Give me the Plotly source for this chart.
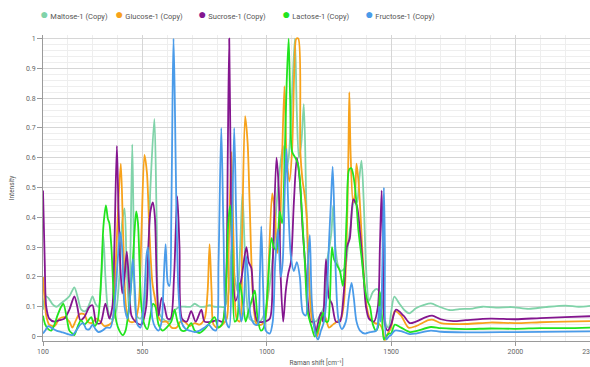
import plotly.graph_objects as go

# Raman spectra of five sugars, normalised intensity vs. Raman shift (cm^-1)

maltose_x = [100, 109, 121, 137, 154, 170, 186, 206, 226, 240, 254, 270, 287, 299, 311, 323, 335, 343, 351, 361,
             371, 383, 395, 407, 418, 428, 436, 446, 452, 459, 466, 476, 492, 508, 522, 532, 548, 557, 567, 581,
             601, 617, 633, 653, 674, 694, 710, 730, 750, 770, 790, 810, 831, 847, 859, 871, 883, 893, 902, 911,
             919, 931, 952, 972, 992, 1004, 1016, 1028, 1040, 1052, 1066, 1076, 1088, 1101, 1113, 1121, 1129, 1139,
             1149, 1159, 1169, 1181, 1197, 1213, 1230, 1242, 1252, 1260, 1267, 1276, 1286, 1298, 1314, 1326, 1338,
             1350, 1362, 1372, 1381, 1390, 1400, 1411, 1427, 1443, 1457, 1467, 1480, 1490, 1500, 1513, 1533, 1553,
             1573, 1600, 1633, 1660, 1694, 1734, 1775, 1828, 1868, 1922, 1985, 2054, 2121, 2201, 2255, 2300]
maltose_y = [0.09, 0.135, 0.13, 0.11, 0.10, 0.11, 0.12, 0.135, 0.165, 0.13, 0.09, 0.085, 0.11, 0.135, 0.11, 0.10,
             0.20, 0.335, 0.20, 0.09, 0.06, 0.06, 0.09, 0.20, 0.38, 0.43, 0.25, 0.08, 0.30, 0.645, 0.30, 0.07,
             0.06, 0.10, 0.25, 0.50, 0.73, 0.40, 0.08, 0.06, 0.05, 0.06, 0.09, 0.10, 0.10, 0.10, 0.11, 0.10, 0.10,
             0.105, 0.10, 0.10, 0.10, 0.15, 0.30, 0.20, 0.15, 0.30, 0.48, 0.30, 0.13, 0.06, 0.05, 0.05, 0.08,
             0.13, 0.20, 0.30, 0.45, 0.56, 0.64, 0.55, 0.60, 0.80, 1.0, 0.75, 0.60, 0.65, 0.78, 0.45, 0.20, 0.08,
             0.05, 0.07, 0.10, 0.25, 0.30, 0.35, 0.44, 0.30, 0.24, 0.22, 0.23, 0.30, 0.38, 0.45, 0.45, 0.53, 0.59,
             0.45, 0.22, 0.12, 0.15, 0.16, 0.14, 0.10, 0.04, 0.03, 0.08, 0.134, 0.111, 0.089, 0.078, 0.095, 0.106,
             0.111, 0.10, 0.089, 0.092, 0.094, 0.10, 0.097, 0.099, 0.093, 0.099, 0.104, 0.10, 0.103]

glucose_x = [100, 105, 113, 125, 146, 166, 186, 206, 218, 230, 246, 266, 279, 295, 315, 331, 347, 367, 379, 393,
             403, 413, 422, 434, 448, 468, 484, 496, 508, 518, 528, 540, 552, 562, 577, 597, 617, 637, 653, 669,
             690, 710, 730, 750, 762, 770, 778, 786, 802, 822, 839, 847, 858, 867, 879, 891, 901, 913, 923, 931,
             945, 960, 980, 996, 1008, 1022, 1032, 1042, 1052, 1060, 1071, 1080, 1091, 1102, 1111, 1119, 1127,
             1135, 1143, 1153, 1161, 1171, 1181, 1193, 1203, 1213, 1226, 1238, 1250, 1266, 1283, 1299, 1311, 1321,
             1328, 1332, 1337, 1347, 1355, 1361, 1369, 1377, 1387, 1402, 1415, 1435, 1455, 1467, 1475, 1487, 1500,
             1515, 1540, 1570, 1600, 1650, 1670, 1700, 1800, 1900, 2000, 2100, 2200, 2300]
glucose_y = [0.20, 0.14, 0.07, 0.04, 0.035, 0.06, 0.065, 0.05, 0.03, 0.05, 0.075, 0.075, 0.05, 0.045, 0.06, 0.05,
             0.035, 0.04, 0.05, 0.25, 0.45, 0.58, 0.35, 0.10, 0.05, 0.05, 0.10, 0.35, 0.61, 0.55, 0.35, 0.18,
             0.12, 0.07, 0.05, 0.05, 0.03, 0.03, 0.05, 0.05, 0.035, 0.045, 0.04, 0.06, 0.15, 0.31, 0.15, 0.04,
             0.03, 0.04, 0.06, 0.30, 0.62, 0.30, 0.06, 0.05, 0.35, 0.74, 0.65, 0.45, 0.13, 0.04, 0.04, 0.07, 0.25,
             0.48, 0.42, 0.28, 0.35, 0.55, 0.84, 0.60, 0.52, 0.63, 0.90, 1.0, 1.0, 0.62, 0.53, 0.47, 0.40, 0.18,
             0.06, 0.03, 0.0, 0.04, 0.08, 0.06, 0.03, 0.04, 0.05, 0.06, 0.12, 0.31, 0.60, 0.82, 0.62, 0.45, 0.48,
             0.58, 0.52, 0.41, 0.25, 0.10, 0.06, 0.045, 0.04, 0.02, -0.012, 0.01, 0.03, 0.085, 0.07, 0.03, 0.035,
             0.055, 0.056, 0.045, 0.042, 0.047, 0.045, 0.048, 0.05, 0.052]

sucrose_x = [100, 107, 113, 125, 146, 166, 186, 206, 226, 238, 250, 266, 287, 299, 315, 331, 351, 367, 379, 387,
             397, 403, 412, 419, 428, 437, 446, 456, 472, 495, 515, 524, 532, 542, 550, 557, 565, 577, 589, 601,
             613, 627, 640, 649, 659, 678, 696, 714, 737, 750, 778, 802, 822, 837, 843, 849, 855, 863, 875, 895,
             918, 927, 938, 947, 963, 988, 1012, 1024, 1039, 1048, 1056, 1066, 1076, 1086, 1097, 1109, 1121, 1133,
             1145, 1155, 1165, 1177, 1189, 1197, 1205, 1218, 1226, 1238, 1250, 1262, 1278, 1294, 1310, 1322, 1334,
             1348, 1362, 1375, 1388, 1399, 1411, 1431, 1447, 1455, 1462, 1467, 1475, 1487, 1500, 1520, 1550, 1575,
             1600, 1640, 1665, 1700, 1750, 1800, 1900, 2000, 2100, 2200, 2300]
sucrose_y = [0.49, 0.25, 0.10, 0.06, 0.05, 0.055, 0.06, 0.09, 0.135, 0.10, 0.055, 0.065, 0.10, 0.105, 0.045, 0.045,
             0.11, 0.06, 0.10, 0.30, 0.64, 0.45, 0.22, 0.145, 0.20, 0.285, 0.18, 0.07, 0.05, 0.04, 0.10, 0.30,
             0.42, 0.45, 0.40, 0.20, 0.07, 0.13, 0.10, 0.06, 0.06, 0.20, 0.47, 0.30, 0.06, 0.05, 0.085, 0.05, 0.09,
             0.05, 0.05, 0.055, 0.05, 0.20, 0.60, 1.0, 0.55, 0.20, 0.12, 0.18, 0.30, 0.25, 0.23, 0.12, 0.05, 0.05,
             0.06, 0.25, 0.60, 0.50, 0.20, 0.05, 0.15, 0.21, 0.25, 0.45, 0.60, 0.52, 0.35, 0.24, 0.12, 0.05, 0.05,
             0.005, 0.04, 0.08, 0.05, 0.26, 0.13, 0.11, 0.05, 0.05, 0.15, 0.30, 0.33, 0.46, 0.44, 0.35, 0.22, 0.10,
             0.06, 0.05, 0.10, 0.30, 0.49, 0.30, 0.04, 0.02, 0.04, 0.09, 0.07, 0.045, 0.05, 0.065, 0.07, 0.058,
             0.052, 0.055, 0.06, 0.058, 0.062, 0.065, 0.068]

lactose_x = [100, 109, 121, 133, 146, 158, 173, 182, 194, 206, 218, 226, 238, 253, 266, 279, 294, 307, 319, 327,
             335, 343, 353, 361, 367, 375, 385, 395, 407, 421, 432, 442, 452, 461, 468, 475, 482, 488, 496, 508,
             520, 532, 542, 552, 565, 581, 597, 616, 629, 641, 657, 674, 696, 710, 730, 750, 770, 790, 806, 822,
             835, 845, 853, 861, 871, 881, 891, 903, 915, 925, 939, 952, 962, 976, 988, 1004, 1019, 1028, 1039,
             1052, 1062, 1072, 1080, 1088, 1094, 1102, 1115, 1125, 1133, 1141, 1153, 1165, 1181, 1193, 1205, 1218,
             1227, 1238, 1246, 1254, 1262, 1270, 1282, 1294, 1306, 1314, 1322, 1331, 1340, 1346, 1355, 1363, 1368,
             1382, 1395, 1405, 1415, 1427, 1439, 1447, 1455, 1463, 1471, 1479, 1491, 1500, 1515, 1540, 1575, 1600,
             1660, 1700, 1800, 1900, 2000, 2100, 2200, 2300]
lactose_y = [0.07, 0.04, 0.025, 0.02, 0.04, 0.07, 0.10, 0.11, 0.07, 0.02, 0.01, 0.005, 0.03, 0.055, 0.04, 0.05,
             0.065, 0.035, 0.05, 0.10, 0.22, 0.37, 0.44, 0.395, 0.38, 0.30, 0.13, 0.05, 0.02, 0.005, 0.02, 0.07,
             0.15, 0.25, 0.35, 0.42, 0.38, 0.25, 0.10, 0.04, 0.025, 0.07, 0.11, 0.10, 0.04, 0.02, 0.03, 0.05, 0.09,
             0.05, 0.02, 0.02, 0.045, 0.02, 0.012, 0.025, 0.045, 0.065, 0.03, 0.045, 0.15, 0.38, 0.44, 0.30, 0.05,
             0.06, 0.18, 0.12, 0.05, 0.08, 0.12, 0.155, 0.07, 0.02, 0.03, 0.17, 0.33, 0.30, 0.29, 0.42, 0.38, 0.60,
             0.85, 1.0, 0.80, 0.62, 0.60, 0.58, 0.53, 0.42, 0.25, 0.08, 0.03, 0.0, 0.02, 0.06, 0.08, 0.05, 0.05,
             0.13, 0.30, 0.26, 0.24, 0.22, 0.17, 0.25, 0.42, 0.56, 0.565, 0.55, 0.50, 0.42, 0.36, 0.26, 0.16, 0.12,
             0.10, 0.04, 0.02, 0.03, 0.15, 0.07, -0.01, 0.0, 0.01, 0.01, 0.04, 0.03, 0.015, 0.018, 0.032, 0.028,
             0.025, 0.027, 0.026, 0.028, 0.028, 0.03]

fructose_x = [100, 109, 121, 133, 154, 174, 194, 218, 234, 250, 262, 274, 287, 299, 311, 323, 339, 355, 371, 387,
              400, 410, 418, 428, 440, 452, 461, 470, 480, 492, 506, 516, 522, 530, 540, 552, 565, 577, 585, 593,
              602, 609, 616, 621, 625, 630, 637, 645, 656, 674, 690, 710, 730, 750, 766, 782, 796, 806, 817, 826,
              837, 849, 859, 869, 877, 887, 898, 907, 917, 925, 935, 952, 963, 972, 978, 986, 996, 1012, 1024, 1034,
              1045, 1056, 1064, 1072, 1079, 1086, 1097, 1109, 1121, 1133, 1145, 1157, 1166, 1173, 1181, 1193, 1206,
              1218, 1230, 1242, 1251, 1258, 1265, 1272, 1278, 1288, 1302, 1318, 1330, 1341, 1350, 1361, 1375, 1395,
              1415, 1441, 1452, 1458, 1464, 1471, 1475, 1481, 1491, 1500, 1515, 1540, 1575, 1600, 1660, 1700, 1800,
              2000, 2300]
fructose_y = [0.01, 0.02, 0.035, 0.03, 0.02, 0.015, 0.01, 0.005, 0.02, 0.04, 0.045, 0.025, 0.025, 0.04, 0.025, 0.015,
              0.02, 0.03, 0.03, 0.10, 0.25, 0.35, 0.30, 0.10, 0.06, 0.15, 0.26, 0.15, 0.04, 0.03, 0.12, 0.27, 0.30,
              0.20, 0.06, 0.03, 0.02, 0.05, 0.18, 0.31, 0.18, 0.17, 0.40, 0.80, 1.0, 0.80, 0.40, 0.15, 0.05, 0.025,
              0.02, 0.015, 0.02, 0.03, 0.04, 0.025, 0.02, 0.25, 0.70, 0.35, 0.05, 0.03, 0.30, 0.70, 0.40, 0.12, 0.05,
              0.10, 0.27, 0.20, 0.07, 0.04, 0.04, 0.20, 0.37, 0.15, 0.02, 0.01, 0.05, 0.25, 0.36, 0.20, 0.25, 0.48,
              0.63, 0.45, 0.27, 0.22, 0.25, 0.20, 0.08, 0.07, 0.25, 0.34, 0.12, 0.02, -0.01, 0.02, 0.05, 0.15, 0.33,
              0.45, 0.57, 0.40, 0.20, 0.06, 0.025, 0.05, 0.13, 0.18, 0.13, 0.05, 0.02, 0.01, 0.015, 0.02, 0.10, 0.05,
              0.20, 0.50, 0.30, -0.01, 0.0, 0.005, 0.02, 0.018, 0.008, 0.01, 0.02, 0.016, 0.014, 0.015, 0.017]

series = [
    ("Maltose-1 (Copy)", maltose_x, maltose_y, "#80d3a9"),
    ("Glucose-1 (Copy)", glucose_x, glucose_y, "#f7a21b"),
    ("Sucrose-1 (Copy)", sucrose_x, sucrose_y, "#84168f"),
    ("Lactose-1 (Copy)", lactose_x, lactose_y, "#22e41f"),
    ("Fructose-1 (Copy)", fructose_x, fructose_y, "#4a9be9"),
]

# legend entry positions (left edge of each entry, px)
legend_left_px = [37, 120, 203, 287, 370]

W, H = 590, 367
fig = go.Figure()
for i, (name, xs, ys, color) in enumerate(series):
    fig.add_trace(go.Scatter(
        x=xs, y=ys, mode="lines", name=name, showlegend=False,
        line=dict(color=color, width=1.8, shape="spline", smoothing=0.8),
    ))
    # legend entry: coloured dot followed by the series name
    fig.add_trace(go.Scatter(
        x=[None], y=[None], mode="none", showlegend=True,
        legend="legend" if i == 0 else f"legend{i + 1}",
        name=f"<span style='color:{color};font-size:14px'>●</span> {name}",
    ))

legend_common = dict(
    orientation="h", xref="container", yref="container", xanchor="left", yanchor="middle",
    y=1 - 16 / H, font=dict(family="Roboto", size=7.5, color="#555"), bgcolor="rgba(0,0,0,0)",
)
legends = {}
for i, lx in enumerate(legend_left_px):
    key = "legend" if i == 0 else f"legend{i + 1}"
    legends[key] = dict(legend_common, x=(lx - 45) / W)

fig.update_layout(
    width=W, height=H,
    margin=dict(l=43, r=0, t=35, b=26),
    paper_bgcolor="white", plot_bgcolor="white",
    font=dict(family="Roboto", color="#666"),
    **legends,
)
fig.update_xaxes(
    range=[100, 2300], tickvals=[100, 500, 1000, 1500, 2000, 2300],
    showgrid=True, gridcolor="#d6d6d6", gridwidth=1,
    minor=dict(dtick=100, tick0=0, showgrid=True, gridcolor="#eeeeee", gridwidth=1),
    showline=True, linecolor="#9a9a9a", linewidth=1,
    ticks="outside", ticklen=4, tickcolor="#9a9a9a",
    tickfont=dict(size=7, color="#666"), zeroline=False, ticklabeloverflow="allow",
    title=dict(text="Raman shift [cm⁻¹]", font=dict(size=6.5, color="#555"), standoff=6),
    automargin=False,
)
fig.update_yaxes(
    range=[-0.015, 1.012], tick0=0, dtick=0.1,
    showgrid=True, gridcolor="#d6d6d6", gridwidth=1,
    minor=dict(dtick=0.02, tick0=0, showgrid=True, gridcolor="#eeeeee", gridwidth=1),
    showline=True, linecolor="#9a9a9a", linewidth=1,
    ticks="outside", ticklen=5, tickcolor="#9a9a9a",
    tickfont=dict(size=7, color="#666"), zeroline=False,
    title=dict(text="Intensity", font=dict(size=6.5, color="#555"), standoff=10),
    automargin=False,
)

fig.write_html("out.html")
